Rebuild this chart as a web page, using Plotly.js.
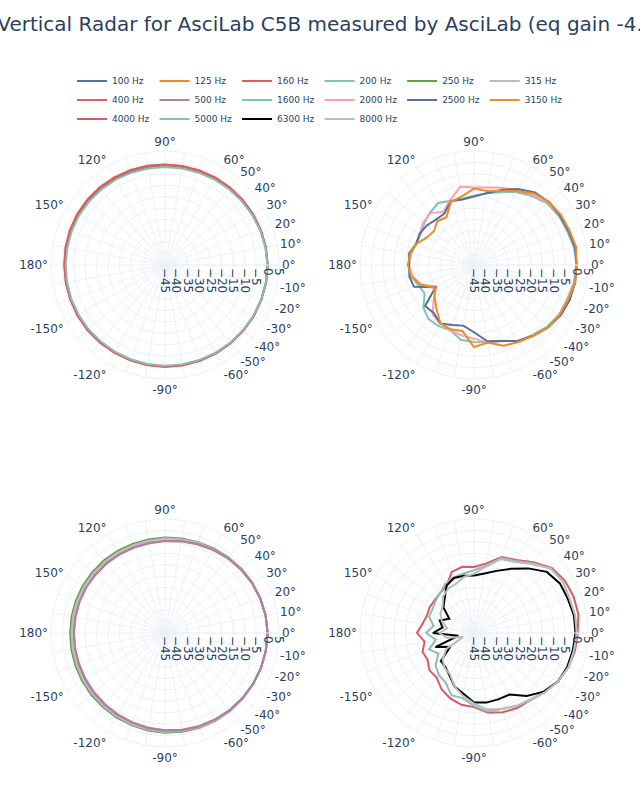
<!DOCTYPE html>
<html><head><meta charset="utf-8">
<script src="https://cdn.plot.ly/plotly-3.0.1.min.js"></script>
<style>body{margin:0;background:#fff}</style>
</head><body><div id="chart" style="width:640px;height:800px"></div>
<script>
// angles in degrees (closing point added when drawing)
const angles = [0,10,20,30,40,50,60,70,80,90,100,110,120,130,140,150,160,170,180,-170,-160,-150,-140,-130,-120,-110,-100,-90,-80,-70,-60,-50,-40,-30,-20,-10];

// subplot 1
const hz100 = [0,-0.2,-0.4,-0.6,-0.8,-1.0,-1.1,-1.2,-1.3,-1.3,-1.3,-1.3,-1.2,-1.2,-1.1,-1.1,-1.1,-1.1,-1.1,-1.0,-1.0,-1.0,-0.9,-0.9,-0.8,-0.7,-0.6,-0.5,-0.5,-0.5,-0.4,-0.4,-0.3,-0.2,-0.1,0];
const hz125 = [0,-0.1,-0.3,-0.5,-0.6,-0.8,-0.9,-1.0,-1.0,-1.0,-0.9,-0.8,-0.7,-0.6,-0.6,-0.6,-0.7,-0.8,-0.9,-0.9,-0.8,-0.7,-0.7,-0.7,-0.6,-0.6,-0.5,-0.4,-0.4,-0.4,-0.3,-0.3,-0.2,-0.1,-0.1,0];
const hz160 = [0,-0.1,-0.3,-0.4,-0.6,-0.7,-0.8,-0.9,-0.9,-0.9,-0.8,-0.7,-0.6,-0.5,-0.5,-0.5,-0.6,-0.7,-0.8,-0.8,-0.8,-0.7,-0.6,-0.6,-0.6,-0.5,-0.5,-0.4,-0.3,-0.3,-0.3,-0.2,-0.2,-0.1,-0.1,0];
const hz200 = [0,-0.3,-0.6,-0.9,-1.2,-1.5,-1.7,-1.9,-2.0,-2.0,-2.0,-1.9,-1.8,-1.7,-1.6,-1.5,-1.5,-1.5,-1.5,-1.4,-1.3,-1.3,-1.2,-1.2,-1.1,-1.0,-0.9,-0.8,-0.8,-0.7,-0.6,-0.5,-0.4,-0.3,-0.2,-0.1];
// subplot 2
const hz250 = [0,-0.2,-0.5,-0.8,-1.2,-1.7,-2.1,-2.6,-2.9,-3.1,-3.3,-3.4,-3.4,-3.4,-3.4,-3.4,-3.4,-3.4,-3.4,-3.3,-3.2,-3.0,-2.8,-2.6,-2.3,-2.0,-1.6,-1.2,-1.0,-0.8,-0.6,-0.5,-0.4,-0.3,-0.2,-0.1];
const hz315 = [0,-0.2,-0.5,-0.9,-1.3,-1.8,-2.4,-2.9,-3.3,-3.6,-3.9,-4.0,-4.1,-4.1,-4.1,-4.0,-4.0,-4.0,-4.0,-3.9,-3.8,-3.6,-3.4,-3.1,-2.8,-2.4,-2.0,-1.6,-1.3,-1.0,-0.8,-0.6,-0.4,-0.3,-0.2,-0.1];
const hz400 = [0,-0.2,-0.6,-1.0,-1.6,-2.2,-2.9,-3.6,-4.2,-4.7,-5.0,-5.1,-5.2,-5.2,-5.2,-5.1,-5.1,-5.1,-5.1,-5.0,-4.9,-4.7,-4.4,-4.1,-3.7,-3.3,-2.8,-2.3,-1.9,-1.5,-1.2,-0.9,-0.6,-0.4,-0.2,-0.1];
const hz500 = [0,-0.2,-0.6,-1.0,-1.5,-2.1,-2.8,-3.4,-4.0,-4.5,-4.8,-4.9,-5.0,-5.0,-5.0,-4.9,-4.9,-4.9,-4.9,-4.8,-4.7,-4.5,-4.2,-3.9,-3.5,-3.1,-2.6,-2.1,-1.7,-1.4,-1.1,-0.8,-0.6,-0.4,-0.2,-0.1];
// subplot 3
const hz1600 = [0,-0.5,-1.5,-2,-3,-5.5,-8,-11,-13,-14.5,-15.5,-15,-13.6,-15,-16.5,-18,-18,-17,-16.5,-17,-19,-20,-16,-14,-14,-14.5,-11.7,-11.2,-10.5,-9.5,-6.5,-5,-3,-1.8,-1.5,-0.5];
const hz2000 = [0,0,-1,-1.5,-2.5,-5,-7,-9,-10.5,-11,-10.2,-14.6,-18,-15.3,-16,-17.5,-18,-16.5,-16.5,-17.5,-20,-26,-22,-16.7,-15.5,-14.5,-13.6,-12.7,-10.5,-9.5,-6.5,-4.5,-2.5,-1.4,-1.2,0];
const hz2500 = [0,0,-1,-1.5,-2,-3.5,-6.5,-10,-13,-15,-15.8,-15.3,-19,-19,-18,-17.5,-18,-16,-16.5,-16.2,-17,-25.5,-17,-17.5,-15.4,-17,-18,-15.5,-11,-9.5,-6.5,-4.5,-2.5,-1,-0.3,0];
const hz3150 = [0,0.5,-0.5,-1,-2,-4,-7.5,-10.5,-12,-11.5,-14.4,-15.5,-20.8,-20,-22,-21,-18,-16.5,-16,-17,-20,-25,-22.5,-19.5,-15.5,-15,-15.6,-9,-10.5,-7.3,-6,-4.5,-2.5,-1.5,-1,0];
// subplot 4
const hz4000 = [0.5,1.5,1.5,1,-0.5,-4.5,-8,-9.5,-14,-16,-15.5,-16.5,-21,-22,-22.5,-22.5,-23,-22,-20,-23,-21,-21.5,-19.5,-19.5,-16.5,-14.5,-13,-12.5,-9.5,-8,-7,-6.5,-5,-2.5,-1,0];
const hz5000 = [0,0,-0.5,0,-1,-5,-8.5,-10,-15,-17.5,-18.5,-19,-20,-22,-23,-24,-24,-27,-24,-28,-24,-27,-23,-21,-20,-16,-16,-13,-10,-9.5,-8,-6.5,-4.5,-2.5,-1,-0.5];
const hz6300 = [-0.5,-0.5,-1.2,-1.5,-3.3,-8,-12.5,-16,-18.5,-19.8,-19.5,-19.3,-21,-25,-27.5,-32.5,-29,-31,-27,-38,-27,-33,-26,-25.5,-23.5,-20,-18,-14.5,-14,-14,-13.8,-9,-5,-2.5,-1.5,-1];
const hz8000 = [0,0,-0.5,0,-1,-5.5,-9,-10.5,-15.5,-19,-20,-22,-22.5,-24,-27,-28,-30,-33,-30,-33,-40,-31,-27,-25,-24,-20,-17,-14,-11,-9.5,-8,-7,-4.5,-2.5,-1,-0.5];

const names = ['100 Hz','125 Hz','160 Hz','200 Hz','250 Hz','315 Hz','400 Hz','500 Hz','1600 Hz','2000 Hz','2500 Hz','3150 Hz','4000 Hz','5000 Hz','6300 Hz','8000 Hz'];
const series = [hz100,hz125,hz160,hz200,hz250,hz315,hz400,hz500,hz1600,hz2000,hz2500,hz3150,hz4000,hz5000,hz6300,hz8000];
const colors = ['#5470a0','#ef8a2a','#de5a5c','#88bfb5','#62a04e','#bdbab8','#e05f6a','#a785ab','#7dc3b6','#f7a3af','#56709a','#ec8c26','#d95a60','#8dbdb5','#000000','#bcbcbc'];
const subplotOf = ['polar','polar','polar','polar','polar3','polar3','polar3','polar3','polar2','polar2','polar2','polar2','polar4','polar4','polar4','polar4'];

// angular ticks every 10 degrees, labelled near the front and every 30 degrees
const angTickVals = [];
const angTickText = [];
for (let a = 0; a < 360; a += 10) {
  const lab = a > 180 ? a - 360 : a;
  angTickVals.push(a);
  angTickText.push((Math.abs(lab) <= 60 || lab % 30 === 0) ? lab + '°' : '');
}

const traces = series.map((s, i) => ({
  type: 'scatterpolar', mode: 'lines',
  r: s.concat([s[0]]), theta: angles.concat([angles[0]]),
  name: names[i], subplot: subplotOf[i],
  line: {color: colors[i], width: 2}
}));

const FONT = 'DejaVu Sans, Verdana, sans-serif';
const grid = '#EBF0F8';
function polar(dx, dy) {
  return {
    domain: {x: dx, y: dy},
    bgcolor: '#ffffff',
    radialaxis: {range: [-45, 5], dtick: 5, tickangle: 90, gridcolor: grid, linecolor: grid, showline: true, ticks: '', tickfont: {family: FONT, size: 12, color: '#2a3f5f'}},
    angularaxis: {tickmode: 'array', tickvals: angTickVals, ticktext: angTickText, gridcolor: grid, linecolor: grid, ticks: '', rotation: 0, direction: 'counterclockwise', tickfont: {family: FONT, size: 12, color: '#2a3f5f'}}
  };
}

const layout = {
  width: 640, height: 800,
  margin: {l: 40, r: 40, t: 0, b: 0},
  paper_bgcolor: '#ffffff',
  font: {family: FONT, color: '#2a3f5f'},
  title: {text: 'Vertical Radar for AsciLab C5B measured by AsciLab (eq gain -4.', x: 0.5, xanchor: 'center', y: 0.97, yanchor: 'middle', font: {family: FONT, size: 20, color: '#2a3f5f'}},
  showlegend: true,
  legend: {orientation: 'h', x: 0.5, xanchor: 'center', y: 0.917, yanchor: 'top', font: {family: FONT, size: 9, color: '#2a3f5f'}},
  polar: polar([0.019643, 0.426786], [0.52625, 0.81125]),
  polar2: polar([0.571429, 0.978571], [0.52625, 0.81125]),
  polar3: polar([0.019643, 0.426786], [0.06625, 0.35125]),
  polar4: polar([0.571429, 0.978571], [0.06625, 0.35125])
};

Plotly.newPlot('chart', traces, layout, {displayModeBar: false});
</script></body></html>
